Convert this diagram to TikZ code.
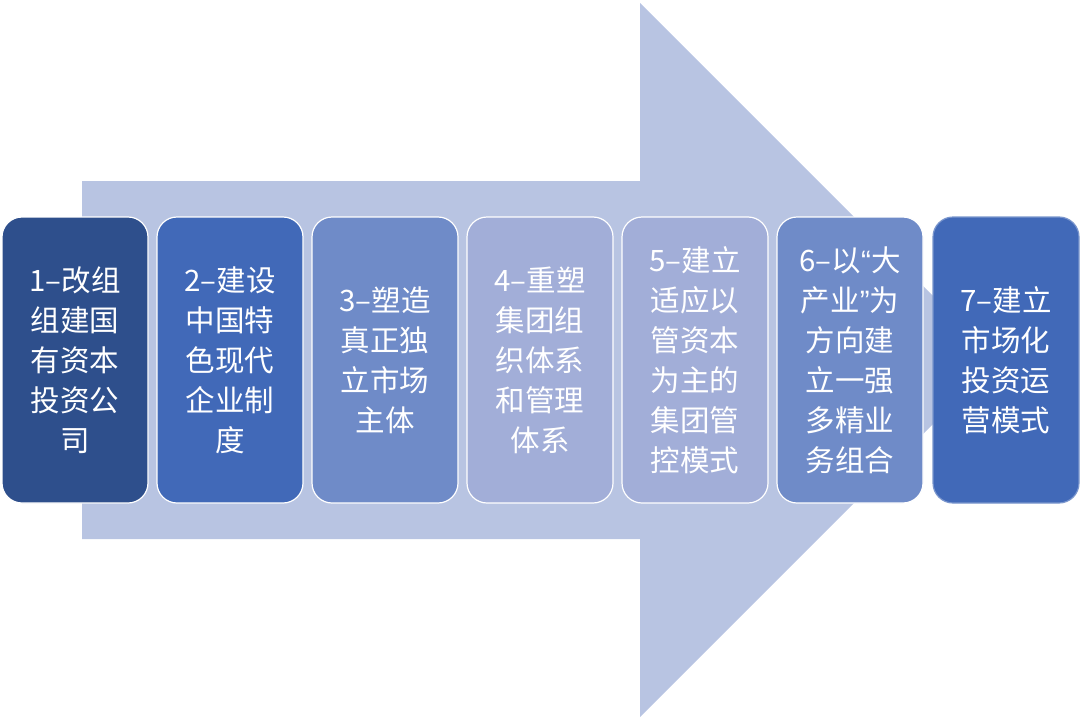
\documentclass[tikz,border=0pt]{standalone}
\usepackage{fontspec}
\newfontfamily\cjk{Noto Sans CJK SC}
\newfontfamily\qf{Liberation Sans}
\definecolor{arrowc}{HTML}{B8C4E2}
\definecolor{cA}{HTML}{2E4F8C}
\definecolor{cB}{HTML}{4169B8}
\definecolor{cC}{HTML}{6F8BC8}
\definecolor{cD}{HTML}{A2AED8}
\tikzset{
  stepbox/.style={rectangle, rounded corners=20pt, draw=white, line width=1.2pt,
    minimum width=146pt, minimum height=286pt, inner sep=0pt,
    text=white, align=center, font=\cjk\fontsize{29.5}{40}\selectfont},
}
\begin{document}
\begin{tikzpicture}[x=1pt,y=-1pt]
\useasboundingbox (0,0) rectangle (1081,720);
\fill[arrowc] (82,181) -- (640,181) -- (640,3) -- (997,360) -- (640,717) -- (640,539) -- (82,539) -- cycle;
\node[stepbox, fill=cA] (s1) at (75,360) {1–改组\\组建国\\有资本\\投资公\\司};
\node[stepbox, fill=cB] (s2) at (230,360) {2–建设\\中国特\\色现代\\企业制\\度};
\node[stepbox, fill=cC] (s3) at (385,360) {3–塑造\\真正独\\立市场\\主体};
\node[stepbox, fill=cD] (s4) at (540,360) {4–重塑\\集团组\\织体系\\和管理\\体系};
\node[stepbox, fill=cD] (s5) at (695,360) {5–建立\\适应以\\管资本\\为主的\\集团管\\控模式};
\node[stepbox, fill=cC] (s6) at (850,360) {6–以{\qf“}大\\产业{\qf”}为\\方向建\\立一强\\多精业\\务组合};
\node[stepbox, fill=cB, draw=cB!70!white] (s7) at (1006,360) {7–建立\\市场化\\投资运\\营模式};
\end{tikzpicture}
\end{document}
